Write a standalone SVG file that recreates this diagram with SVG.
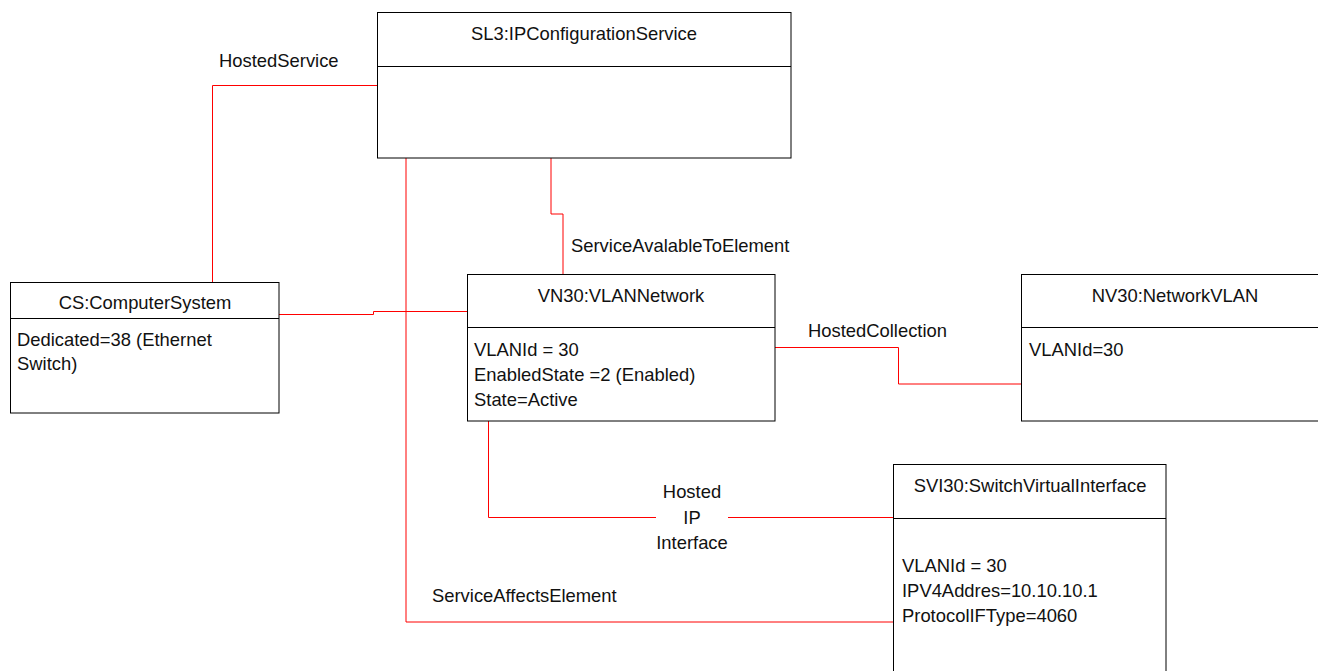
<svg xmlns="http://www.w3.org/2000/svg" width="1318" height="671" viewBox="0 0 1318 671">
<style>
  text { font-family: "Liberation Sans", Arial, sans-serif; font-size: 18.4px; fill: #111; }
  .t { text-anchor: middle; }
  .box { fill: #fff; stroke: #000; stroke-width: 1; }
  .div { stroke: #000; stroke-width: 1; }
  .c { fill: none; stroke: #ff0000; stroke-width: 1; }
</style>
<rect width="1318" height="671" fill="#fff"/>
<g id="connectors">
  <path class="c" d="M377 85.5 H212.5 V282"/>
  <path class="c" d="M551 158 V214 H563 V274"/>
  <path class="c" d="M279 314.5 H373.5 V311.5 H467"/>
  <path class="c" d="M775 347.5 H898.5 V384 H1022"/>
  <path class="c" d="M488.5 421 V517.5 H656"/>
  <path class="c" d="M728 517.5 H894"/>
  <path class="c" d="M406 158 V622 H894"/>
</g>
<g id="labels">
  <text x="219" y="67">HostedService</text>
  <text x="571" y="252">ServiceAvalableToElement</text>
  <text x="808" y="337">HostedCollection</text>
  <text class="t" x="692" y="498">Hosted</text>
  <text class="t" x="692" y="524">IP</text>
  <text class="t" x="692" y="549">Interface</text>
  <text x="432" y="602">ServiceAffectsElement</text>
</g>
<g id="SL3">
  <rect class="box" x="377.5" y="12.5" width="413.5" height="145.5"/>
  <line class="div" x1="377.5" y1="66.5" x2="791" y2="66.5"/>
  <text class="t" x="584" y="40">SL3:IPConfigurationService</text>
</g>
<g id="CS">
  <rect class="box" x="10.5" y="282.5" width="268.5" height="130.5"/>
  <line class="div" x1="10.5" y1="318.5" x2="279" y2="318.5"/>
  <text class="t" x="145" y="309">CS:ComputerSystem</text>
  <text x="17" y="346">Dedicated=38 (Ethernet</text>
  <text x="17" y="370">Switch)</text>
</g>
<g id="VN30">
  <rect class="box" x="467.5" y="274.5" width="307.5" height="146.5"/>
  <line class="div" x1="467.5" y1="327.5" x2="775" y2="327.5"/>
  <text class="t" x="621" y="302">VN30:VLANNetwork</text>
  <text x="474" y="356">VLANId = 30</text>
  <text x="474" y="381">EnabledState =2 (Enabled)</text>
  <text x="474" y="406">State=Active</text>
</g>
<g id="NV30">
  <rect class="box" x="1021.5" y="274.5" width="340" height="146.5"/>
  <line class="div" x1="1021.5" y1="327.5" x2="1362" y2="327.5"/>
  <text class="t" x="1175" y="302">NV30:NetworkVLAN</text>
  <text x="1029" y="356">VLANId=30</text>
</g>
<g id="SVI30">
  <rect class="box" x="893.5" y="464.5" width="272.5" height="260"/>
  <line class="div" x1="893.5" y1="518.5" x2="1166" y2="518.5"/>
  <text class="t" x="1030" y="492">SVI30:SwitchVirtualInterface</text>
  <text x="902" y="572">VLANId = 30</text>
  <text x="902" y="597">IPV4Addres=10.10.10.1</text>
  <text x="902" y="622">ProtocolIFType=4060</text>
</g>
</svg>
